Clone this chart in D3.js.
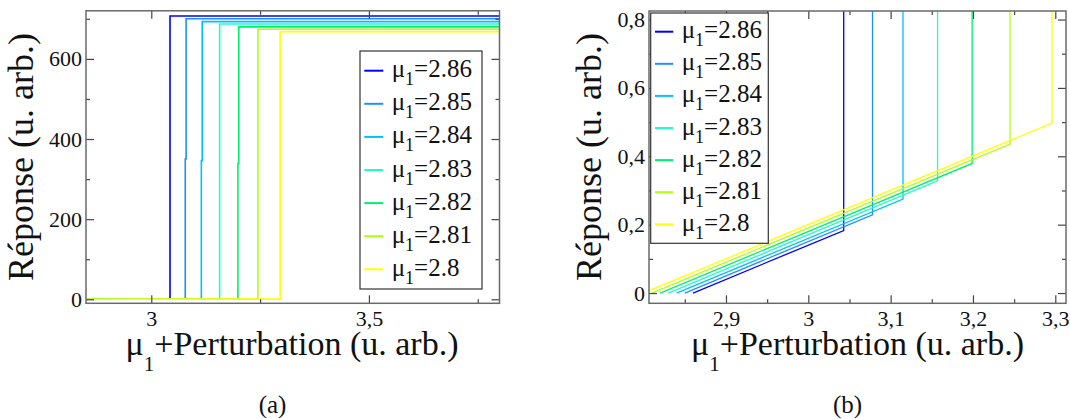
<!DOCTYPE html>
<html><head><meta charset="utf-8">
<script src="https://cdn.jsdelivr.net/npm/d3@7"></script>
<style>
html,body{margin:0;padding:0;background:#fff;}
svg{display:block;}
</style></head>
<body><svg id="chart" width="1070" height="419" font-family="Liberation Serif, Times New Roman, serif"></svg>
<script>
// ---- data ----
const seriesLabels = ["2.86", "2.85", "2.84", "2.83", "2.82", "2.81", "2.8"];
const mu = [2.86, 2.85, 2.84, 2.83, 2.82, 2.81, 2.80];
const colors = ["#0000ff", "#1e90ff", "#00c0ff", "#20ffc0", "#00f070", "#b0ff10", "#ffff00"];
const jumpX = [3.043, 3.078, 3.115, 3.157, 3.199, 3.245, 3.296];
const jumpLow = [0.183, 0.229, 0.275, 0.328, 0.379, 0.436, 0.497];
const jumpMid = [null, 350, 346, null, 339, null, null];
const jumpXUpper = [3.043, 3.080, 3.117, 3.157, 3.201, 3.245, 3.296];
const plateau = [707, 700, 693, 687, 680, 674, 668];
const xEnd = 3.8;

const leftXTicks = [3, 3.5], leftXMinor = [3.25, 3.75];
const leftYTicks = [0, 200, 400, 600], leftYMinor = [100, 300, 500, 700];
const rightXTicks = [2.9, 3, 3.1, 3.2, 3.3], rightXMinor = [2.85, 2.95, 3.05, 3.15, 3.25];
const rightYTicks = [0, 0.2, 0.4, 0.6, 0.8], rightYMinor = [0.1, 0.3, 0.5, 0.7];
const yTitle = "Réponse (u. arb.)";
const xTitleRest = "+Perturbation (u. arb.)";
const captions = ["(a)", "(b)"];

const FONT = "Liberation Serif, Times New Roman, serif";

// ---- build series ----
const series = mu.map((m, i) => {
  const pts = [[m, 0], [jumpX[i], jumpLow[i]]];
  if (jumpMid[i] != null) { pts.push([jumpX[i], jumpMid[i]]); pts.push([jumpXUpper[i], jumpMid[i]]); }
  pts.push([jumpXUpper[i], plateau[i]]);
  pts.push([xEnd, plateau[i]]);
  return {label: seriesLabels[i], color: colors[i], pts};
});

const svg = d3.select("#chart");
const fmt = d => String(d).replace(".", ",");

function txt(parent, x, y, s, fs) {
  return parent.append("text").attr("x", x).attr("y", y)
    .attr("font-family", FONT).attr("font-size", fs).attr("fill", "#111").text(s);
}
function muText(parent, x, y, rest, fs, subFs, subShift, centre) {
  const a = txt(parent, 0, y, "μ", fs);
  const b = txt(parent, 0, y + subShift, "1", subFs);
  const c = txt(parent, 0, y, rest, fs);
  const wa = a.node().getComputedTextLength();
  const wb = b.node().getComputedTextLength();
  const wc = c.node().getComputedTextLength();
  const x0 = centre ? x - (wa + wb + wc) / 2 : x;
  a.attr("x", x0); b.attr("x", x0 + wa); c.attr("x", x0 + wa + wb);
}

function panel(cfg, idx) {
  const g = svg.append("g").attr("font-family", FONT);
  const x = d3.scaleLinear().domain(cfg.xd).range([cfg.x0, cfg.x1]);
  const y = d3.scaleLinear().domain(cfg.yd).range([cfg.y1, cfg.y0]);
  const w = cfg.x1 - cfg.x0, h = cfg.y1 - cfg.y0;

  // nested svg viewport clips the lines to the plot area
  const plot = g.append("svg").attr("x", cfg.x0).attr("y", cfg.y0)
    .attr("width", w).attr("height", h)
    .attr("viewBox", `${cfg.x0} ${cfg.y0} ${w} ${h}`);
  const line = d3.line().x(d => x(d[0])).y(d => y(d[1]));
  plot.selectAll("path").data(series).join("path")
    .attr("d", d => line(d.pts)).attr("fill", "none")
    .attr("stroke", d => d.color).attr("stroke-width", cfg.lw);

  const axes = [
    [d3.axisBottom(x).tickValues(cfg.xt).tickSize(-8).tickPadding(7).tickFormat(fmt), `translate(0,${cfg.y1})`],
    [d3.axisBottom(x).tickValues(cfg.xm).tickSize(-4).tickFormat(""), `translate(0,${cfg.y1})`],
    [d3.axisTop(x).tickValues(cfg.xt).tickSize(-8).tickFormat(""), `translate(0,${cfg.y0})`],
    [d3.axisTop(x).tickValues(cfg.xm).tickSize(-4).tickFormat(""), `translate(0,${cfg.y0})`],
    [d3.axisLeft(y).tickValues(cfg.yt).tickSize(-8).tickPadding(4).tickFormat(fmt), `translate(${cfg.x0},0)`],
    [d3.axisLeft(y).tickValues(cfg.ym).tickSize(-4).tickFormat(""), `translate(${cfg.x0},0)`],
    [d3.axisRight(y).tickValues(cfg.yt).tickSize(-8).tickFormat(""), `translate(${cfg.x1},0)`],
    [d3.axisRight(y).tickValues(cfg.ym).tickSize(-4).tickFormat(""), `translate(${cfg.x1},0)`]
  ];
  axes.forEach(([ax, tr]) => {
    const a = g.append("g").attr("transform", tr).call(ax);
    a.select(".domain").remove();
    a.attr("font-family", FONT).attr("font-size", 22);
    a.selectAll("line").attr("stroke", "#444").attr("stroke-width", 1.2);
    a.selectAll("text").attr("font-family", FONT).attr("font-size", 22).attr("fill", "#111");
  });

  g.append("rect").attr("x", cfg.x0).attr("y", cfg.y0).attr("width", w).attr("height", h)
    .attr("fill", "none").attr("stroke", "#6a6a6a").attr("stroke-width", 1.5);

  // legend
  const L = cfg.leg;
  const lg = g.append("g");
  lg.append("rect").attr("x", L.x).attr("y", L.y).attr("width", L.w).attr("height", L.h)
    .attr("fill", "#fff").attr("stroke", "#333").attr("stroke-width", 1.2);
  series.forEach((s, i) => {
    const ry = L.r0 + i * L.step;
    lg.append("line").attr("x1", L.lx0).attr("x2", L.lx1).attr("y1", ry).attr("y2", ry)
      .attr("stroke", s.color).attr("stroke-width", 2);
    muText(lg, L.tx, ry + 6.5, "=" + s.label, 25, 18, 8, false);
  });

  // x title
  muText(g, cfg.xtc, 355, xTitleRest, 34, 21, 16, true);

  // y title (rotated)
  g.append("text").attr("transform", "rotate(-90)").attr("x", -157).attr("y", cfg.ytx)
    .attr("font-family", FONT).attr("font-size", 36).attr("fill", "#111")
    .attr("text-anchor", "middle").text(yTitle);

  // caption
  g.append("text").attr("x", cfg.capx).attr("y", 413).attr("font-size", 25).attr("font-family", FONT)
    .attr("text-anchor", "middle").attr("fill", "#111").text(captions[idx]);
}

panel({
  xd: [2.85, 3.8], yd: [-10, 720], x0: 86, x1: 499.5, y0: 10.8, y1: 303.3, lw: 1.6,
  xt: leftXTicks, xm: leftXMinor, yt: leftYTicks, ym: leftYMinor,
  leg: {x: 360, y: 51, w: 122, h: 238, r0: 70.7, step: 33.1, lx0: 364.3, lx1: 383.3, tx: 391.7},
  xtc: 292, ytx: 33, capx: 272.5
}, 0);

panel({
  xd: [2.8065, 3.313], yd: [-0.03, 0.825], x0: 649, x1: 1066, y0: 11, y1: 303.3, lw: 1.3,
  xt: rightXTicks, xm: rightXMinor, yt: rightYTicks, ym: rightYMinor,
  leg: {x: 650.7, y: 13, w: 117.6, h: 230.3, r0: 31.7, step: 32.1, lx0: 655, lx1: 673.3, tx: 681.7},
  xtc: 857.5, ytx: 601, capx: 847.5
}, 1);
</script>
</body></html>
